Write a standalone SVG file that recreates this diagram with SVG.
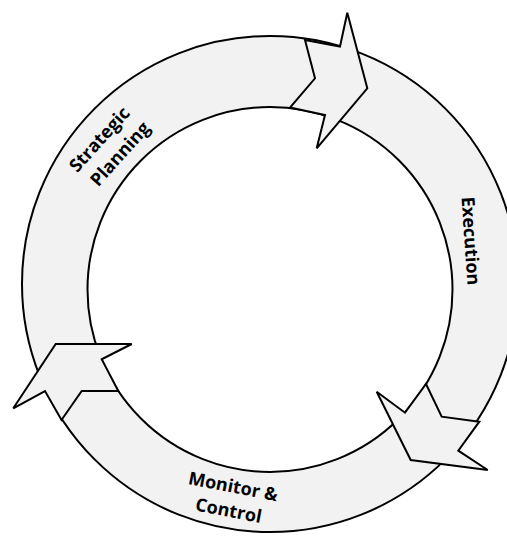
<svg xmlns="http://www.w3.org/2000/svg" width="507" height="536" viewBox="0 0 507 536">
  <style>
    .band { fill: #f2f2f2; stroke: #000; stroke-width: 2; fill-rule: evenodd; }
    .arrow { fill: #f2f2f2; stroke: #000; stroke-width: 2; stroke-linejoin: miter; }
    .label { font-family: "Open Sans", "Noto Sans", "Liberation Sans", sans-serif; font-weight: 700; font-size: 18px; fill: #000; text-anchor: middle; }
  </style>

  <!-- circular band -->
  <g id="ring">
    <path class="band" d="M 22 284 A 248 248 0 1 0 518 284 A 248 248 0 1 0 22 284 Z M 87.5 289.5 A 182.5 182.5 0 1 1 452.5 289.5 A 182.5 182.5 0 1 1 87.5 289.5 Z"/>
  </g>

  <!-- cycle arrows -->
  <g id="connectors">
    <polygon class="arrow" points="305,40 340,46.5 347.3,12.7 367.3,88.3 316.7,148.3 325,115 290,107.5 315,78.3"/>
    <polygon class="arrow" points="426,384 441.7,416.7 479.3,421.7 458.3,450.7 487.7,470 410.7,460 376.7,391.7 405,412.7"/>
    <polygon class="arrow" points="55.7,344 131.7,344 101.7,359.3 118.3,391 81.7,391 61.5,420 45,391 13.3,408.3"/>
  </g>

  <g id="strategic-planning" transform="translate(109.5,146.5) rotate(-48)">
    <text class="label" x="-1.5" y="-6">Strategic</text>
    <text class="label" x="1.5" y="19">Planning</text>
  </g>

  <g id="execution" transform="translate(471,241) rotate(86)">
    <text class="label" x="0" y="6.5">Execution</text>
  </g>

  <g id="monitor-control" transform="translate(231,498) rotate(11)">
    <text class="label" x="0" y="-5.5">Monitor &amp;</text>
    <text class="label" x="0" y="19">Control</text>
  </g>
</svg>
